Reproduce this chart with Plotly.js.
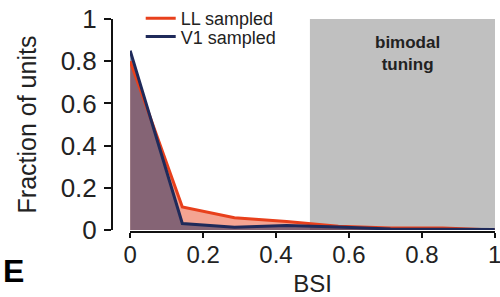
<!DOCTYPE html>
<html>
<head>
<meta charset="utf-8">
<script src="https://cdn.plot.ly/plotly-3.0.1.min.js"></script>
<style>html,body{margin:0;padding:0;background:#fff;}#chart{width:500px;height:297px;}</style>
</head>
<body>
<div id="chart"></div>
<script>
const bsi = [0, 0.143, 0.286, 0.429, 0.571, 0.714, 0.857, 1.0];
const llSampled = [0.80, 0.109, 0.058, 0.040, 0.018, 0.010, 0.010, 0.0];
const v1Sampled = [0.85, 0.031, 0.013, 0.022, 0.014, 0.005, 0.004, 0.002];
const seriesNames = ['LL sampled', 'V1 sampled'];
const xTicks = [0, 0.2, 0.4, 0.6, 0.8, 1];
const xTickText = ['0', '0.2', '0.4', '0.6', '0.8', '1'];
const yTicks = [0, 0.2, 0.4, 0.6, 0.8, 1];
const yTickText = ['0', '0.2', '0.4', '0.6', '0.8', '1'];
const bimodalStart = 0.493;

const FONT = 'Liberation Sans, Arial, sans-serif';
const LL_COLOR = '#e8401c';
const V1_COLOR = '#1f2a5a';

const traces = [
  {x: bsi, y: llSampled, type: 'scatter', mode: 'none', showlegend: false, hoverinfo: 'skip',
   fill: 'tozeroy', fillcolor: 'rgba(232,64,28,0.48)'},
  {x: bsi, y: v1Sampled, type: 'scatter', mode: 'none', showlegend: false, hoverinfo: 'skip',
   fill: 'tozeroy', fillcolor: 'rgba(31,42,90,0.52)'},
  {x: bsi, y: llSampled, name: seriesNames[0], type: 'scatter', mode: 'lines',
   line: {color: LL_COLOR, width: 3}, legend: 'legend'},
  {x: bsi, y: v1Sampled, name: seriesNames[1], type: 'scatter', mode: 'lines',
   line: {color: V1_COLOR, width: 3}, legend: 'legend2'}
];

const legendCommon = {xanchor: 'left', yanchor: 'middle', bgcolor: 'rgba(0,0,0,0)',
  font: {size: 18, family: FONT, color: '#222'}, itemwidth: 30};

const layout = {
  width: 500, height: 297,
  margin: {l: 112, r: 0, t: 17, b: 65},
  paper_bgcolor: '#fff', plot_bgcolor: 'rgba(0,0,0,0)',
  font: {family: FONT, color: '#222'},
  showlegend: true,
  legend: Object.assign({x: 0.074, y: (232 - 16) / 215}, legendCommon),
  legend2: Object.assign({x: 0.074, y: (232 - 35) / 215}, legendCommon),
  xaxis: {
    domain: [0.0464, 0.987], range: [-0.0005, 1.0005], anchor: 'free', position: 0,
    showline: true, linecolor: '#111', linewidth: 2,
    ticks: 'outside', ticklen: 5, tickwidth: 2, tickcolor: '#111',
    tickvals: xTicks, ticktext: xTickText, showgrid: false, zeroline: false,
    ticklabelstandoff: -4, ticklabeloverflow: 'allow',
    tickfont: {size: 24, family: FONT, color: '#222'},
    title: {text: 'BSI', font: {size: 24, family: FONT, color: '#222'}, standoff: 9}
  },
  yaxis: {
    domain: [0.0093, 1], range: [0, 1], anchor: 'free', position: 0,
    showline: true, linecolor: '#111', linewidth: 2,
    ticks: 'outside', ticklen: 7, tickwidth: 2, tickcolor: '#111',
    tickvals: yTicks, ticktext: yTickText, showgrid: false, zeroline: false,
    ticklabelstandoff: 2,
    tickfont: {size: 26, family: FONT, color: '#222'},
    title: {text: 'Fraction of units', font: {size: 25, family: FONT, color: '#222'}, standoff: 16}
  },
  shapes: [
    {type: 'rect', layer: 'below', xref: 'x', yref: 'y', x0: bimodalStart, x1: 1.05, y0: 0, y1: 1.005,
     fillcolor: '#c0c0c0', line: {width: 0}}
  ],
  annotations: [
    {text: '<b>bimodal</b><br><b>tuning</b>', xref: 'paper', yref: 'paper', x: 0.761, y: (232 - 52) / 215,
     xanchor: 'center', yanchor: 'middle', showarrow: false,
     font: {size: 17, family: FONT, color: '#222'}},
    {text: '<b>E</b>', xref: 'paper', yref: 'paper', x: -0.287, y: (232 - 271) / 215,
     xanchor: 'left', yanchor: 'middle', showarrow: false,
     font: {size: 32, family: FONT, color: '#000'}}
  ]
};

Plotly.newPlot('chart', traces, layout, {displayModeBar: false, staticPlot: true});
</script>
</body>
</html>
